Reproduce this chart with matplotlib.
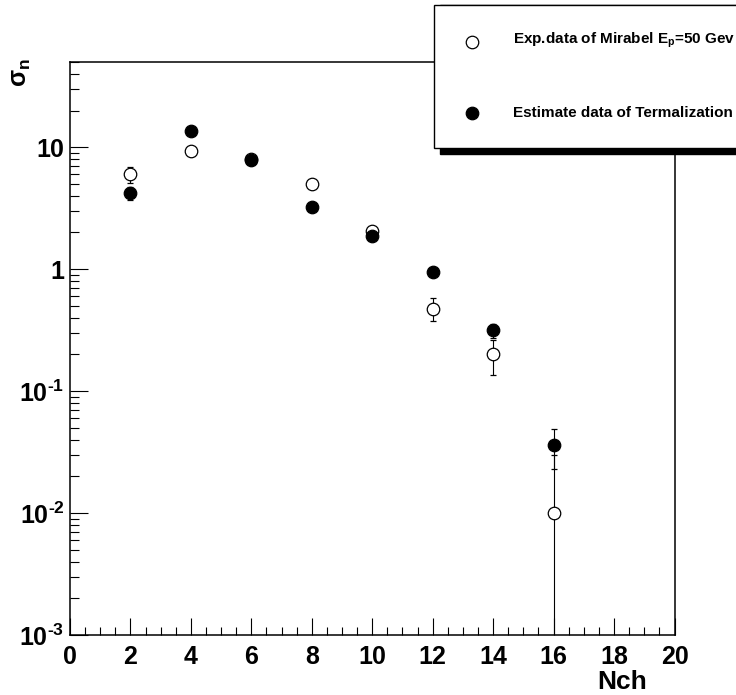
import numpy as np
import matplotlib
matplotlib.use('Agg')
import matplotlib.pyplot as plt
from matplotlib.patches import Rectangle
from matplotlib.lines import Line2D
from matplotlib.ticker import FixedLocator, NullFormatter

plt.rcParams['font.family'] = ['Liberation Sans', 'DejaVu Sans']
plt.rcParams['font.weight'] = 'bold'
plt.rcParams['mathtext.fontset'] = 'custom'
plt.rcParams['mathtext.rm'] = 'Liberation Sans:bold'
plt.rcParams['mathtext.bf'] = 'Liberation Sans:bold'
plt.rcParams['mathtext.it'] = 'Liberation Sans:bold'

# multiplicity points
nch = [2, 4, 6, 8, 10, 12, 14, 16]

# Mirabel data, Ep = 50 GeV
exp_sigma = [6.0, 9.4, 8.0, 5.0, 2.05, 0.475, 0.20, 0.010]
exp_err = [0.9, 0.4, 0.3, 0.2, 0.08, 0.10, 0.065, 0.02]

# thermalization estimate
est_sigma = [4.2, 13.7, 7.9, 3.25, 1.87, 0.94, 0.315, 0.036]
est_err = [0.5, 0.5, 0.3, 0.15, 0.07, 0.04, 0.04, 0.013]

ytick_vals = [1e-3, 1e-2, 1e-1, 1, 10]
ytick_labels = [r'$10^{\text{-3}}$', r'$10^{\text{-2}}$', r'$10^{\text{-1}}$', '1', '10']
xtick_vals = [0, 2, 4, 6, 8, 10, 12, 14, 16, 18, 20]

W, H = 736, 695
fig = plt.figure(figsize=(W / 100, H / 100), dpi=100)
ax = fig.add_axes([70 / W, 1 - 635 / H, 604.5 / W, 573 / H])

ax.errorbar(nch, exp_sigma, yerr=exp_err, fmt='o', ms=9, mfc='white', mec='black',
            mew=0.9, ecolor='black', elinewidth=0.8, capsize=2.5, capthick=0.8, zorder=3)
ax.errorbar(nch, est_sigma, yerr=est_err, fmt='o', ms=9, mfc='black', mec='black',
            mew=0.9, ecolor='black', elinewidth=0.8, capsize=2.5, capthick=0.8, zorder=4)

ax.set_yscale('log', nonpositive='clip')
ax.set_xlim(0, 20)
ax.set_ylim(1e-3, 50)

ax.set_xticks(xtick_vals)
ax.set_xticklabels([str(v) for v in xtick_vals])
ax.xaxis.set_minor_locator(FixedLocator(np.arange(0, 20.01, 0.5)))
ax.set_yticks(ytick_vals)
ax.set_yticklabels(ytick_labels)
minor_y = [m * 10.0 ** e for e in range(-3, 2) for m in range(2, 10)]
ax.yaxis.set_minor_locator(FixedLocator(minor_y))
ax.yaxis.set_minor_formatter(NullFormatter())

ax.tick_params(axis='both', which='both', direction='in', top=False, right=False,
               width=0.8, labelsize=18)
ax.tick_params(axis='x', which='major', length=12, pad=7)
ax.tick_params(axis='x', which='minor', length=6)
ax.tick_params(axis='y', which='major', length=13, pad=4)
ax.tick_params(axis='y', which='minor', length=6.5)
for s in ax.spines.values():
    s.set_linewidth(1.1)

fig.text(647 / W, 1 - 682 / H, 'Nch', ha='right', va='center', fontsize=19, fontweight='bold')
fig.text(21 / W, 1 - 58 / H, r'$\sigma_\mathbf{n}$', rotation=90, ha='center', va='top',
         fontsize=18)

# legend box with shadow
fig.add_artist(Rectangle((440 / W, 1 - 154 / H), 400 / W, 149 / H, transform=fig.transFigure,
                         facecolor='black', edgecolor='black', zorder=5))
fig.add_artist(Rectangle((434 / W, 1 - 148 / H), 400 / W, 143 / H, transform=fig.transFigure,
                         facecolor='white', edgecolor='black', linewidth=1.0, zorder=6))
fig.add_artist(Line2D([472 / W], [1 - 42 / H], marker='o', ms=9, mfc='white', mec='black',
                      mew=0.9, transform=fig.transFigure, zorder=7))
fig.add_artist(Line2D([472 / W], [1 - 113 / H], marker='o', ms=9, mfc='black', mec='black',
                      mew=0.9, transform=fig.transFigure, zorder=7))
fig.text(513 / W, 1 - 40 / H, r'Exp.data of Mirabel E$_\mathbf{p}$=50 Gev', ha='left',
         va='center', fontsize=11, fontweight='bold', zorder=8)
fig.text(513 / W, 1 - 113 / H, 'Estimate data of Termalization', ha='left', va='center',
         fontsize=11, fontweight='bold', zorder=8)

fig.savefig('out.png', dpi=100)
